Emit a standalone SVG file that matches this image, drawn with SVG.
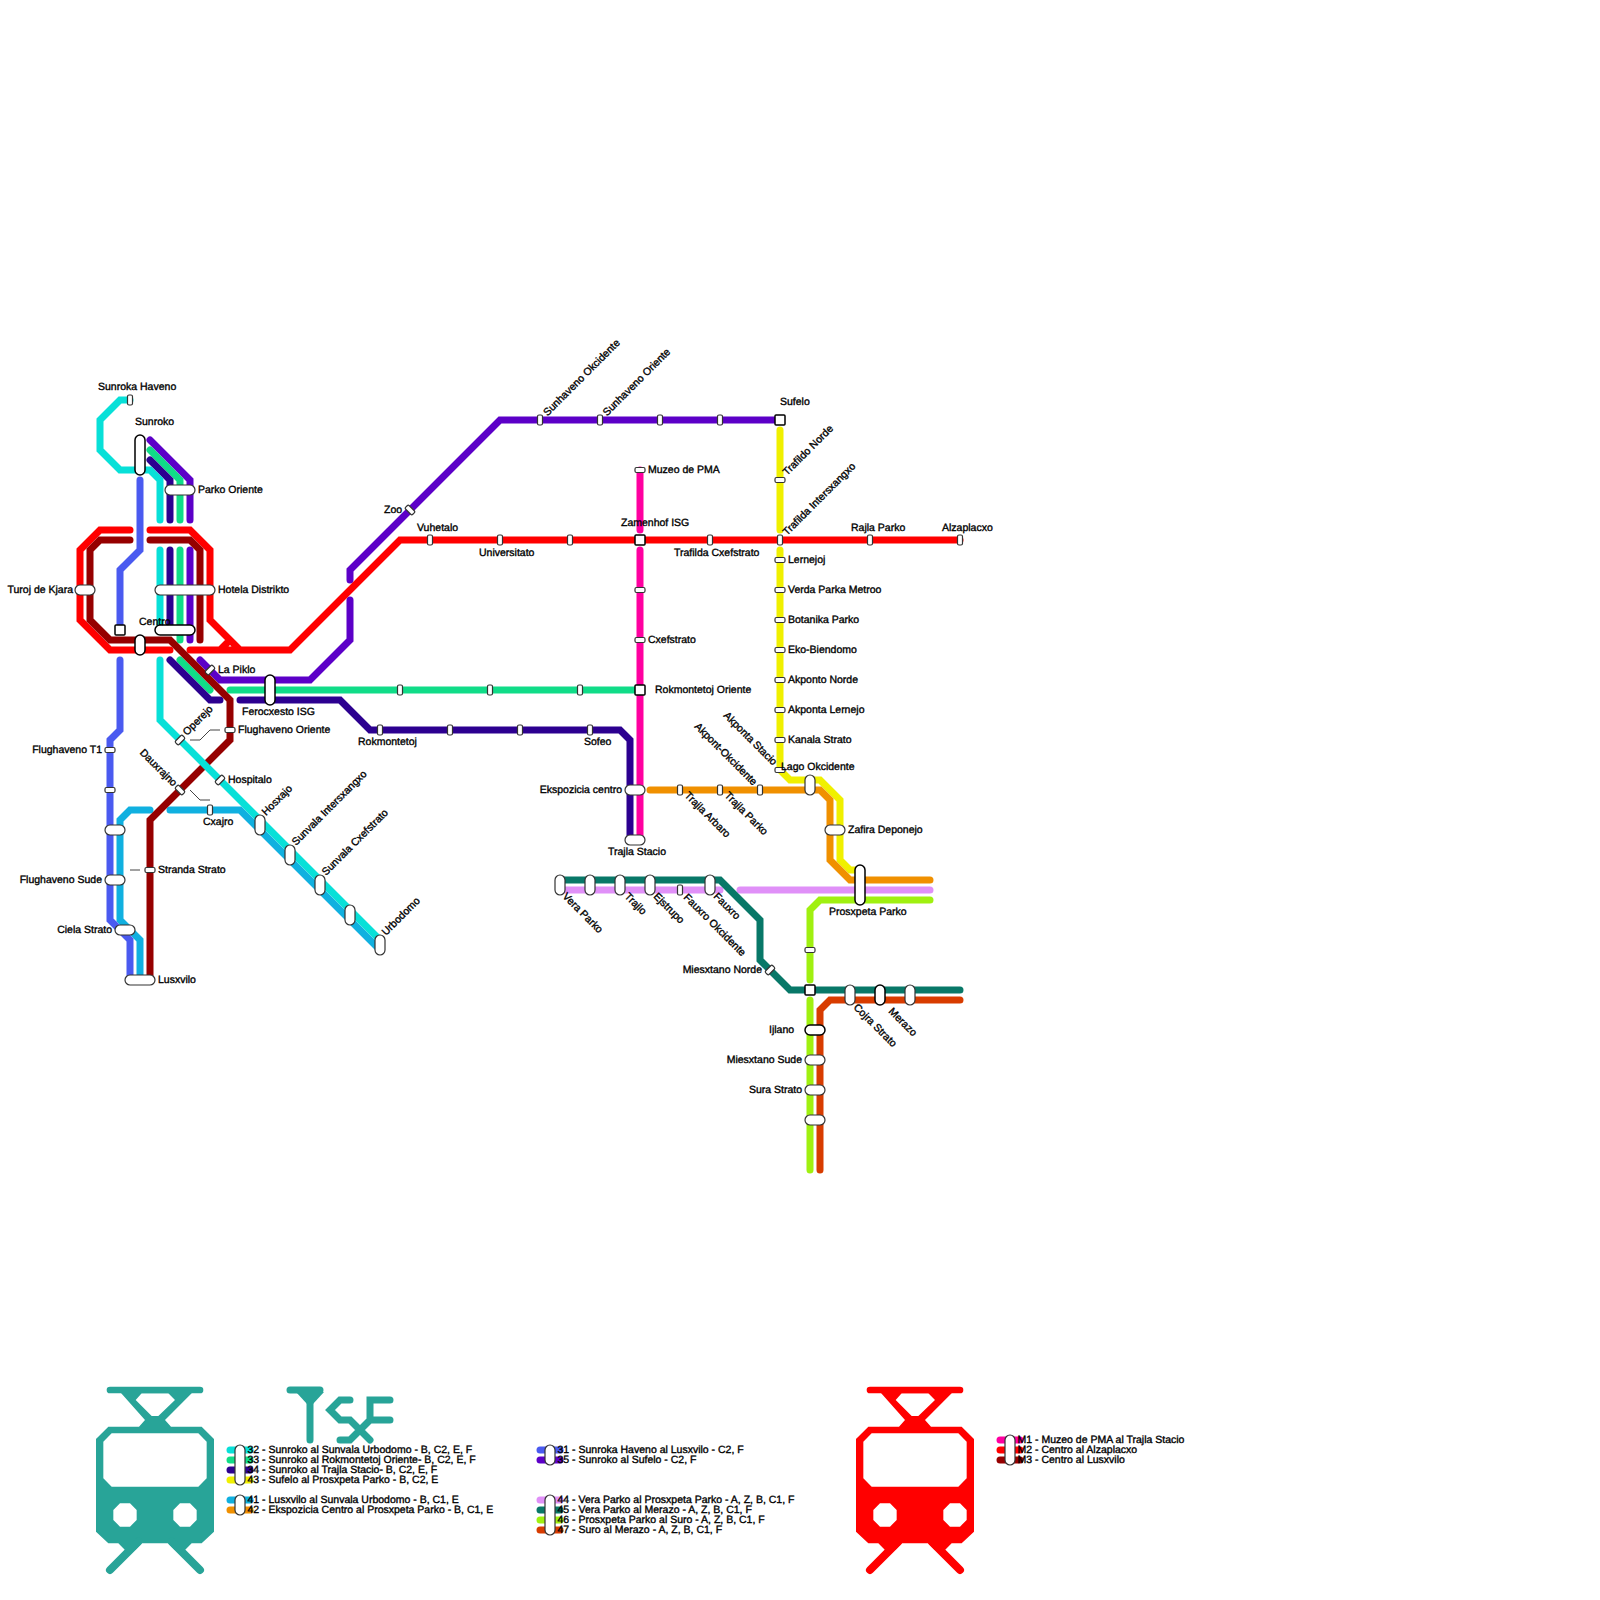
<svg xmlns="http://www.w3.org/2000/svg" width="1600" height="1600" viewBox="0 0 1600 1600">
<style>
.l{fill:none;stroke-width:7;stroke-linecap:round;stroke-linejoin:miter}
.l32{stroke:#08e0d8}.l33{stroke:#10dc88}.l34{stroke:#2c0090}.l35{stroke:#5c00c8}.l31{stroke:#4a5af0}.l41{stroke:#10b0e0}.l42{stroke:#f09000}.l43{stroke:#f0f000}.l44{stroke:#e090f8}.l45{stroke:#087868}.l46{stroke:#a0f010}.l47{stroke:#d83c00}.m1{stroke:#ff00a0}.m2{stroke:#ff0000}.m3{stroke:#960000}
.s{fill:#fff;stroke:#333;stroke-width:1.2}
.k{fill:#fff;stroke:#000;stroke-width:1.5}
.c{fill:none;stroke:#444;stroke-width:1}
text{font-family:"Liberation Sans",Arial,sans-serif;font-size:10.5px;fill:#000;stroke:#000;stroke-width:.35;text-rendering:geometricPrecision}
.e{text-anchor:end}
.logoT{fill:#28a498;fill-rule:evenodd}.logoR{fill:#ff0000;fill-rule:evenodd}
.ps{fill:none;stroke-linecap:round;stroke-width:20}
.lg{fill:none;stroke:#28a498;stroke-width:7;stroke-linecap:round}
</style>
<g id="connectors">
<path class="l l41" d="M140,980V940L120,920V820L130,810H150M170,810H240L380,950"/>
<path class="l l31" d="M140,480V550L120,570V630M120,660V730L110,740V920L130,940V980"/>
<path class="l l35" d="M150,440L190,480V520M190,550V640M200,660L220,680H310L350,640V600M350,580V570L500,420H780"/>
<path class="l l33" d="M150,450L180,480V520M180,550V640M180,660L210,690M230,690H640"/>
<path class="l l34" d="M150,460L170,480V520M170,550V630M170,660L210,700H220M240,700H340L370,730H620L630,740V840"/>
<path class="l l43" d="M780,430V530M780,550V770L790,780H820L840,800V860L850,870H860"/>
<path class="l l42" d="M650,790H820L830,800V860L850,880H930"/>
<path class="l l44" d="M560,890H720M740,890H930"/>
<path class="l l45" d="M560,880H720L760,920V960L790,990H960"/>
<path class="l l46" d="M930,900H820L810,910V980M810,1000V1170"/>
<path class="l l47" d="M960,1000H830L820,1010V1170"/>
<path class="l m1" d="M640,470V530M640,550V840"/>
<path class="l m2" d="M130,530H100L80,550V620L110,650H170M190,650H290L400,540H960M150,530H190L210,550V620L240,650H220L230,640"/>
<path class="l m3" d="M130,540H100L90,550V620L110,640H170L230,700V740L150,820V980M150,540H190L200,550V640"/>
<path class="l l32" d="M130,400H120L100,420V450L120,470H150L160,480V520M160,550V630M160,660V720L380,940"/>
<path class="c" d="M190,740H200L210,730H220M190,790L200,800H210M130,870H140"/>
</g>
<g id="stations">
<g id="sunroka-haveno"><rect class="s" x="127.5" y="395" width="5" height="10" rx="1.5"/><text x="98" y="390">Sunroka Haveno</text></g>
<g id="sunroko"><rect class="k" x="135" y="435" width="10" height="40" rx="5"/><text x="135" y="425">Sunroko</text></g>
<g id="parko-oriente"><rect class="s" x="165" y="485" width="30" height="10" rx="5"/><text x="198" y="493">Parko Oriente</text></g>
<g id="hotela-distrikto"><rect class="s" x="155" y="585" width="60" height="10" rx="5"/><text x="218" y="593">Hotela Distrikto</text></g>
<g id="turoj-de-kjara"><rect class="s" x="75" y="585" width="20" height="10" rx="5"/><text class="e" x="73" y="593">Turoj de Kjara</text></g>
<g id="centro"><rect class="k" x="155" y="625" width="40" height="10" rx="5"/><text x="139" y="625">Centro</text></g>
<g id="centro-m"><rect class="k" x="135" y="635" width="10" height="20" rx="5"/></g>
<g id="centro-sq"><rect class="k" x="115" y="625" width="10" height="10" rx="1"/></g>
<g id="la-piklo"><rect class="s" x="205" y="667.5" width="10" height="5" rx="1.5" transform="rotate(-45 210 670)"/><text x="218" y="672.5">La Piklo</text></g>
<g id="ferocxesto"><rect class="k" x="265" y="675" width="10" height="30" rx="5"/><text x="242" y="715">Ferocxesto ISG</text></g>
<g id="operejo"><rect class="s" x="175" y="737.5" width="10" height="5" rx="1.5" transform="rotate(-45 180 740)"/><text transform="translate(187 736) rotate(-45)">Operejo</text></g>
<g id="flughaveno-oriente"><rect class="s" x="225" y="727.5" width="10" height="5" rx="1.5"/><text x="238" y="732.5">Flughaveno Oriente</text></g>
<g id="hospitalo"><rect class="s" x="215" y="777.5" width="10" height="5" rx="1.5" transform="rotate(-45 220 780)"/><text x="228" y="782.5">Hospitalo</text></g>
<g id="dauxrajno"><rect class="s" x="175" y="787.5" width="10" height="5" rx="1.5" transform="rotate(45 180 790)"/><text class="e" transform="translate(173 787) rotate(45)">Dauxrajno</text></g>
<g id="cxajro"><rect class="s" x="207.5" y="805" width="5" height="10" rx="1.5"/><text x="203" y="824.5">Cxajro</text></g>
<g id="stranda-strato"><rect class="s" x="145" y="867.5" width="10" height="5" rx="1.5"/><text x="158" y="872.5">Stranda Strato</text></g>
<g id="flughaveno-t1"><rect class="s" x="105" y="747.5" width="10" height="5" rx="1.5"/><text class="e" x="102" y="752.5">Flughaveno T1</text></g>
<g id="st-110-790"><rect class="s" x="105" y="787.5" width="10" height="5" rx="1.5"/></g>
<g id="st-115-830"><rect class="s" x="105" y="825" width="20" height="10" rx="5"/></g>
<g id="flughaveno-sude"><rect class="s" x="105" y="875" width="20" height="10" rx="5"/><text class="e" x="102" y="882.5">Flughaveno Sude</text></g>
<g id="ciela-strato"><rect class="s" x="115" y="925" width="20" height="10" rx="5"/><text class="e" x="112" y="932.5">Ciela Strato</text></g>
<g id="lusxvilo"><rect class="s" x="125" y="975" width="30" height="10" rx="5"/><text x="158" y="982.5">Lusxvilo</text></g>
<g id="hosxajo"><rect class="s" x="255" y="815" width="10" height="20" rx="5"/><text transform="translate(266 816) rotate(-45)">Hosxajo</text></g>
<g id="sunvala-intersxangxo"><rect class="s" x="285" y="845" width="10" height="20" rx="5"/><text transform="translate(296 846) rotate(-45)">Sunvala Intersxangxo</text></g>
<g id="sunvala-cxefstrato"><rect class="s" x="315" y="875" width="10" height="20" rx="5"/><text transform="translate(326 876) rotate(-45)">Sunvala Cxefstrato</text></g>
<g id="st-350-915"><rect class="s" x="345" y="905" width="10" height="20" rx="5"/></g>
<g id="urbodomo"><rect class="s" x="375" y="935" width="10" height="20" rx="5"/><text transform="translate(386 936) rotate(-45)">Urbodomo</text></g>
<g id="zoo"><rect class="s" x="405" y="507.5" width="10" height="5" rx="1.5" transform="rotate(45 410 510)"/><text x="384" y="513">Zoo</text></g>
<g id="sunhaveno-okcidente"><rect class="s" x="537.5" y="415" width="5" height="10" rx="1.5"/><text transform="translate(547.5 416.5) rotate(-45)">Sunhaveno Okcidente</text></g>
<g id="sunhaveno-oriente"><rect class="s" x="597.5" y="415" width="5" height="10" rx="1.5"/><text transform="translate(607 416.5) rotate(-45)">Sunhaveno Oriente</text></g>
<g id="st-660-420"><rect class="s" x="657.5" y="415" width="5" height="10" rx="1.5"/></g>
<g id="st-720-420"><rect class="s" x="717.5" y="415" width="5" height="10" rx="1.5"/></g>
<g id="sufelo"><rect class="k" x="775" y="415" width="10" height="10" rx="1"/><text x="780" y="405">Sufelo</text></g>
<g id="vuhetalo"><rect class="s" x="427.5" y="535" width="5" height="10" rx="1.5"/><text x="417" y="530.5">Vuhetalo</text></g>
<g id="universitato"><rect class="s" x="497.5" y="535" width="5" height="10" rx="1.5"/><text x="479" y="555.5">Universitato</text></g>
<g id="st-570-540"><rect class="s" x="567.5" y="535" width="5" height="10" rx="1.5"/></g>
<g id="zamenhof"><rect class="k" x="635" y="535" width="10" height="10" rx="1"/><text x="621" y="525.5">Zamenhof ISG</text></g>
<g id="trafilda-cxefstrato"><rect class="s" x="707.5" y="535" width="5" height="10" rx="1.5"/><text x="674" y="555.5">Trafilda Cxefstrato</text></g>
<g id="trafilda-intersxangxo"><rect class="s" x="777.5" y="535" width="5" height="10" rx="1.5"/><text transform="translate(787 536) rotate(-45)">Trafilda Intersxangxo</text></g>
<g id="rajla-parko"><rect class="s" x="867.5" y="535" width="5" height="10" rx="1.5"/><text x="851" y="530.5">Rajla Parko</text></g>
<g id="alzaplacxo"><rect class="s" x="957.5" y="535" width="5" height="10" rx="1.5"/><text x="942" y="530.5">Alzaplacxo</text></g>
<g id="muzeo"><rect class="s" x="635" y="467.5" width="10" height="5" rx="1.5"/><text x="648" y="472.5">Muzeo de PMA</text></g>
<g id="st-640-590"><rect class="s" x="635" y="587.5" width="10" height="5" rx="1.5"/></g>
<g id="cxefstrato"><rect class="s" x="635" y="637.5" width="10" height="5" rx="1.5"/><text x="648" y="643">Cxefstrato</text></g>
<g id="rokmontetoj-oriente"><rect class="k" x="635" y="685" width="10" height="10" rx="1"/><text x="655" y="692.5">Rokmontetoj Oriente</text></g>
<g id="st-400-690"><rect class="s" x="397.5" y="685" width="5" height="10" rx="1.5"/></g>
<g id="st-490-690"><rect class="s" x="487.5" y="685" width="5" height="10" rx="1.5"/></g>
<g id="st-580-690"><rect class="s" x="577.5" y="685" width="5" height="10" rx="1.5"/></g>
<g id="rokmontetoj"><rect class="s" x="377.5" y="725" width="5" height="10" rx="1.5"/><text x="358" y="745">Rokmontetoj</text></g>
<g id="st-450-730"><rect class="s" x="447.5" y="725" width="5" height="10" rx="1.5"/></g>
<g id="st-520-730"><rect class="s" x="517.5" y="725" width="5" height="10" rx="1.5"/></g>
<g id="sofeo"><rect class="s" x="587.5" y="725" width="5" height="10" rx="1.5"/><text x="584" y="745">Sofeo</text></g>
<g id="ekspozicia-centro"><rect class="s" x="625" y="785" width="20" height="10" rx="5"/><text class="e" x="622" y="792.5">Ekspozicia centro</text></g>
<g id="trajla-stacio"><rect class="s" x="625" y="835" width="20" height="10" rx="5"/><text x="608" y="855">Trajla Stacio</text></g>
<g id="trajla-arbaro"><rect class="s" x="677.5" y="785" width="5" height="10" rx="1.5"/><text transform="translate(684 796) rotate(45)">Trajla Arbaro</text></g>
<g id="trajla-parko"><rect class="s" x="717.5" y="785" width="5" height="10" rx="1.5"/><text transform="translate(724 796) rotate(45)">Trajla Parko</text></g>
<g id="akpont-okcidente"><rect class="s" x="757.5" y="785" width="5" height="10" rx="1.5"/><text class="e" transform="translate(753 786) rotate(45)">Akpont-Okcidente</text></g>
<g id="trafildo-norde"><rect class="s" x="775" y="477.5" width="10" height="5" rx="1.5"/><text transform="translate(787 476) rotate(-45)">Trafildo Norde</text></g>
<g id="lernejoj"><rect class="s" x="775" y="557.5" width="10" height="5" rx="1.5"/><text x="788" y="563">Lernejoj</text></g>
<g id="verda-parka-metroo"><rect class="s" x="775" y="587.5" width="10" height="5" rx="1.5"/><text x="788" y="593">Verda Parka Metroo</text></g>
<g id="botanika-parko"><rect class="s" x="775" y="617.5" width="10" height="5" rx="1.5"/><text x="788" y="623">Botanika Parko</text></g>
<g id="eko-biendomo"><rect class="s" x="775" y="647.5" width="10" height="5" rx="1.5"/><text x="788" y="653">Eko-Biendomo</text></g>
<g id="akponto-norde"><rect class="s" x="775" y="677.5" width="10" height="5" rx="1.5"/><text x="788" y="683">Akponto Norde</text></g>
<g id="akponta-lernejo"><rect class="s" x="775" y="707.5" width="10" height="5" rx="1.5"/><text x="788" y="713">Akponta Lernejo</text></g>
<g id="kanala-strato"><rect class="s" x="775" y="737.5" width="10" height="5" rx="1.5"/><text x="788" y="743">Kanala Strato</text></g>
<g id="akponta-stacio"><text class="e" transform="translate(773 766) rotate(45)">Akponta Stacio</text></g>
<g id="lago-okcidente"><rect class="s" x="775" y="767.5" width="10" height="5" rx="1.5"/><text x="781" y="769.5">Lago Okcidente</text></g>
<g id="st-810-785"><rect class="s" x="805" y="775" width="10" height="20" rx="5"/></g>
<g id="zafira-deponejo"><rect class="s" x="825" y="825" width="20" height="10" rx="5"/><text x="848" y="832.5">Zafira Deponejo</text></g>
<g id="prosxpeta-parko"><rect class="k" x="855" y="865" width="10" height="40" rx="5"/><text x="829" y="915">Prosxpeta Parko</text></g>
<g id="vera-parko"><rect class="s" x="555" y="875" width="10" height="20" rx="5"/><text transform="translate(562 897) rotate(45)">Vera Parko</text></g>
<g id="st-590-885"><rect class="s" x="585" y="875" width="10" height="20" rx="5"/></g>
<g id="trajlo"><rect class="s" x="615" y="875" width="10" height="20" rx="5"/><text transform="translate(624 897) rotate(45)">Trajlo</text></g>
<g id="ejstrupo"><rect class="s" x="645" y="875" width="10" height="20" rx="5"/><text transform="translate(653 897) rotate(45)">Ejstrupo</text></g>
<g id="fauxro-okcidente"><rect class="s" x="677.5" y="885" width="5" height="10" rx="1.5"/><text transform="translate(683 898) rotate(45)">Fauxro Okcidente</text></g>
<g id="fauxro"><rect class="s" x="705" y="875" width="10" height="20" rx="5"/><text transform="translate(713 897) rotate(45)">Fauxro</text></g>
<g id="miesxtano-norde"><rect class="s" x="765" y="967.5" width="10" height="5" rx="1.5" transform="rotate(-45 770 970)"/><text class="e" x="762" y="972.5">Miesxtano Norde</text></g>
<g id="st-810-950"><rect class="s" x="805" y="947.5" width="10" height="5" rx="1.5"/></g>
<g id="st-810-990"><rect class="k" x="805" y="985" width="10" height="10" rx="1"/></g>
<g id="cojra-strato"><rect class="s" x="845" y="985" width="10" height="20" rx="5"/><text transform="translate(853 1008) rotate(45)">Cojra Strato</text></g>
<g id="merazo"><rect class="k" x="875" y="985" width="10" height="20" rx="5"/><text transform="translate(888 1012) rotate(45)">Merazo</text></g>
<g id="st-910-995"><rect class="s" x="905" y="985" width="10" height="20" rx="5"/></g>
<g id="ijlano"><rect class="k" x="805" y="1025" width="20" height="10" rx="5"/><text x="769" y="1032.5">Ijlano</text></g>
<g id="miesxtano-sude"><rect class="s" x="805" y="1055" width="20" height="10" rx="5"/><text class="e" x="802" y="1062.5">Miesxtano Sude</text></g>
<g id="sura-strato"><rect class="s" x="805" y="1085" width="20" height="10" rx="5"/><text class="e" x="802" y="1092.5">Sura Strato</text></g>
<g id="st-815-1120"><rect class="s" x="805" y="1115" width="20" height="10" rx="5"/></g>
</g>
<g id="logo-teal" transform="translate(90 1370) scale(.33333)">
<path class="logoT" d="M85,60H305V70L225,150L243,170H335L372,207V485L335,520H305L285,540H254L235,520H155L136,540H105L85,520H55L18,485V207L55,170H147L165,150ZM155,70L137,90L185,138H205L255,90L235,70ZM65,190L40,215V325L65,350H325L350,325V215L325,190ZM90,400L70,420V450L90,470H120L140,450V420L120,400ZM270,400L250,420V450L270,470H300L320,450V420L300,400Z"/>
<path class="ps" stroke="#28a498" d="M60,60H330"/>
<path class="ps" stroke="#28a498" style="stroke-width:24" d="M60,600L145,515M330,600L245,515"/>
</g>
<g id="logo-tsf">
<path class="lg" d="M290,1390H320M310,1390V1440M350,1400H340L330,1410L340,1420H350L370,1440M340,1440H350L370,1420V1400H390M370,1420H390"/>
<path fill="#28a498" d="M296,1392L307,1404H313L324,1392Z"/>
</g>
<g id="logo-red" transform="translate(850 1370) scale(.33333)">
<path class="logoR" d="M85,60H305V70L225,150L243,170H335L372,207V485L335,520H305L285,540H254L235,520H155L136,540H105L85,520H55L18,485V207L55,170H147L165,150ZM155,70L137,90L185,138H205L255,90L235,70ZM65,190L40,215V325L65,350H325L350,325V215L325,190ZM90,400L70,420V450L90,470H120L140,450V420L120,400ZM300,400L280,420V450L300,470H330L350,450V420L330,400Z"/>
<path class="ps" stroke="#ff0000" d="M60,60H330"/>
<path class="ps" stroke="#ff0000" style="stroke-width:24" d="M60,600L145,515M330,600L245,515"/>
</g>
<g id="legend">
<g id="legend-a">
<path class="l l32" d="M230,1450H250"/><path class="l l33" d="M230,1460H250"/><path class="l l34" d="M230,1470H250"/><path class="l l43" d="M230,1480H250"/>
<rect class="s" x="235" y="1445" width="10" height="40" rx="5"/>
<text x="247.5" y="1453">32 - Sunroko al Sunvala Urbodomo - B, C2, E, F</text>
<text x="247.5" y="1463">33 - Sunroko al Rokmontetoj Oriente- B, C2, E, F</text>
<text x="247.5" y="1473">34 - Sunroko al Trajla Stacio- B, C2, E, F</text>
<text x="247.5" y="1483">43 - Sufelo al Prosxpeta Parko - B, C2, E</text>
</g>
<g id="legend-b">
<path class="l l41" d="M230,1500H250"/><path class="l l42" d="M230,1510H250"/>
<rect class="s" x="235" y="1495" width="10" height="20" rx="5"/>
<text x="247.5" y="1503">41 - Lusxvilo al Sunvala Urbodomo - B, C1, E</text>
<text x="247.5" y="1513">42 - Ekspozicia Centro al Prosxpeta Parko - B, C1, E</text>
</g>
<g id="legend-c">
<path class="l l31" d="M540,1450H560"/><path class="l l35" d="M540,1460H560"/>
<rect class="s" x="545" y="1445" width="10" height="20" rx="5"/>
<text x="557.5" y="1453">31 - Sunroka Haveno al Lusxvilo - C2, F</text>
<text x="557.5" y="1463">35 - Sunroko al Sufelo - C2, F</text>
</g>
<g id="legend-d">
<path class="l l44" d="M540,1500H560"/><path class="l l45" d="M540,1510H560"/><path class="l l46" d="M540,1520H560"/><path class="l l47" d="M540,1530H560"/>
<rect class="s" x="545" y="1495" width="10" height="40" rx="5"/>
<text x="557.5" y="1503">44 - Vera Parko al Prosxpeta Parko - A, Z, B, C1, F</text>
<text x="557.5" y="1513">45 - Vera Parko al Merazo - A, Z, B, C1, F</text>
<text x="557.5" y="1523">46 - Prosxpeta Parko al Suro - A, Z, B, C1, F</text>
<text x="557.5" y="1533">47 - Suro al Merazo - A, Z, B, C1, F</text>
</g>
<g id="legend-e">
<path class="l m1" d="M1000,1440H1020"/><path class="l m2" d="M1000,1450H1020"/><path class="l m3" d="M1000,1460H1020"/>
<rect class="s" x="1005" y="1435" width="10" height="30" rx="5"/>
<text x="1017.5" y="1443">M1 - Muzeo de PMA al Trajla Stacio</text>
<text x="1017.5" y="1453">M2 - Centro al Alzaplacxo</text>
<text x="1017.5" y="1463">M3 - Centro al Lusxvilo</text>
</g>
</g>
</svg>
